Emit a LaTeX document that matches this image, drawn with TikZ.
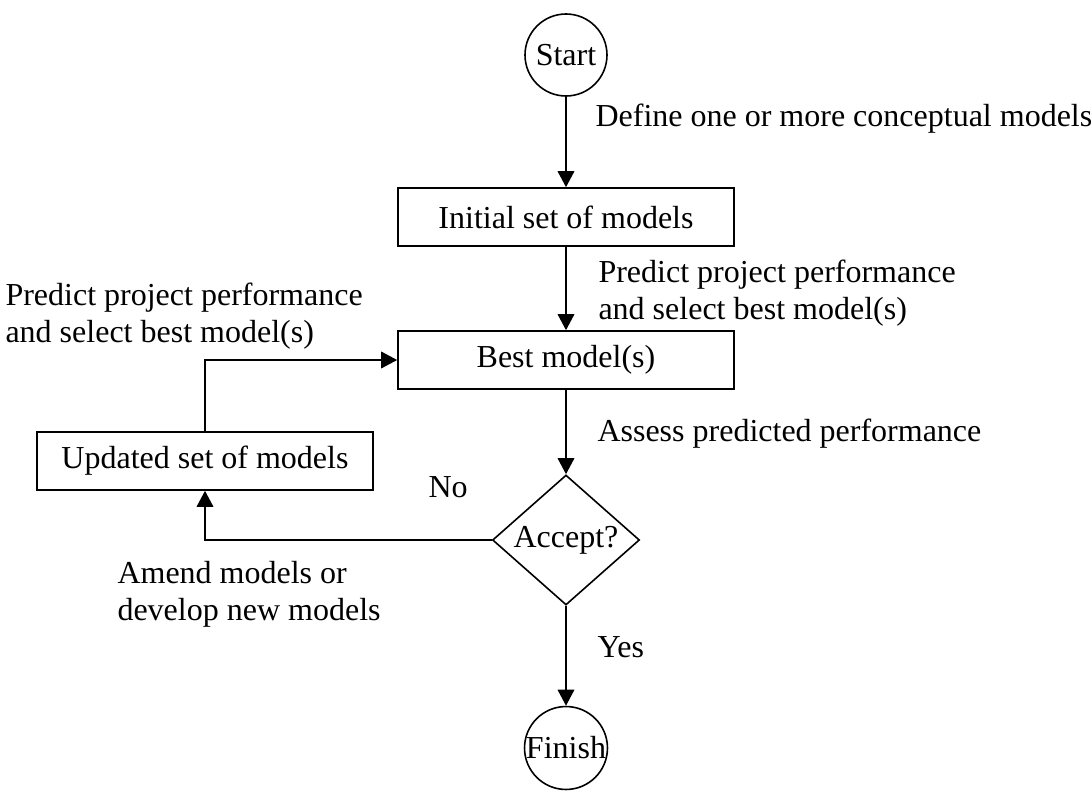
\documentclass[tikz,border=0pt]{standalone}
\usepackage{fontspec}
\setmainfont{Liberation Serif}
\usetikzlibrary{shapes.geometric,arrows.meta}
\begin{document}
\begin{tikzpicture}[x=0.375pt,y=-0.375pt,
  font=\fontsize{12}{14}\selectfont,
  every node/.style={inner sep=0pt},
  line/.style={line width=0.6pt},
  arr/.style={line, -{Triangle[length=6pt,width=6.2pt]}},
  boxnode/.style={draw,line width=0.6pt,minimum width=336*0.375pt,minimum height=58*0.375pt},
  circnode/.style={draw,circle,line width=0.6pt,minimum size=82*0.375pt},
  lbl/.style={anchor=west,align=left}]
\useasboundingbox (0,0) rectangle (1091,792);
\node[circnode] (start) at (566,55) {Start};
\node[boxnode] (init) at (566,217) {Initial set of models};
\node[boxnode] (best) at (566,360) {Best model(s)};
\node[boxnode] (upd) at (205,461) {Updated set of models};
\node[draw,diamond,line width=0.6pt,minimum width=147*0.375pt,minimum height=130*0.375pt,aspect=1.13] (acc) at (566,540) {Accept?};
\node[circnode] (fin) at (566,748) {Finish};
\draw[arr] (start) -- (init);
\draw[arr] (init) -- (best);
\draw[arr] (best) -- (acc.north);
\draw[arr] (acc.south) -- (fin);
\draw[arr] (upd.north) |- (best.west);
\draw[arr] (acc.west) -| (upd.south);
\node[lbl] (l1) at (595,119) {Define one or more conceptual models};
\node[lbl,text depth=0pt] (l2) at (598,290) {Predict project performance\\and select best model(s)};
\node[lbl] (l3) at (5,316) {Predict project performance\\and select best model(s)};
\node[lbl] (l4) at (597,434) {Assess predicted performance};
\node[lbl] (l5) at (428,487) {No};
\node[lbl] (l6) at (117,594) {Amend models or\\develop new models};
\node[lbl] (l7) at (597,647) {Yes};
\end{tikzpicture}
\end{document}
